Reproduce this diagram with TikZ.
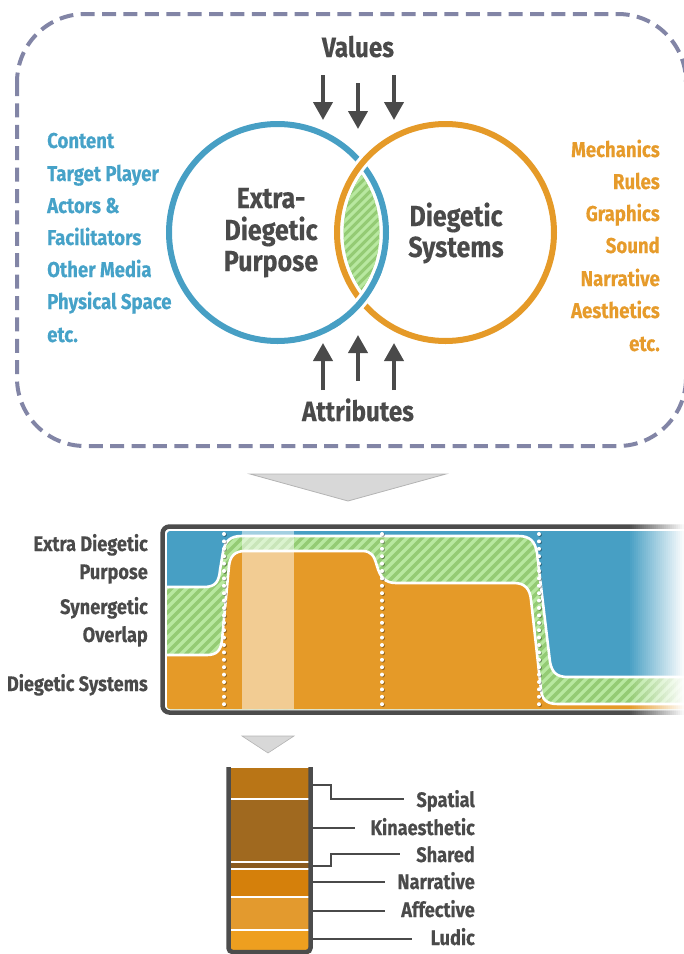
\documentclass[tikz,border=0pt]{standalone}
\usepackage{fontspec}
\setmainfont{Fira Sans}[FakeStretch=0.865, FakeBold=0.35]
\usetikzlibrary{arrows.meta}
\definecolor{dk}{HTML}{4A4A4A}
\definecolor{frm}{HTML}{4C4C4C}
\definecolor{cblue}{HTML}{479FC4}
\definecolor{tblue}{HTML}{46A2C8}
\definecolor{corange}{HTML}{E59A28}
\definecolor{torange}{HTML}{E69B2B}
\definecolor{cgreen}{HTML}{94CB74}
\definecolor{cstripe}{HTML}{B8E8A0}
\definecolor{cdash}{HTML}{8285A6}
\definecolor{tri}{HTML}{D8D8D8}
\definecolor{triD}{HTML}{B4B4B4}
\definecolor{bA}{HTML}{B97516}
\definecolor{bB}{HTML}{A0691F}
\definecolor{bC}{HTML}{8A5A1F}
\definecolor{bD}{HTML}{D5800B}
\definecolor{bE}{HTML}{E39A2E}
\definecolor{bF}{HTML}{EE9F1F}
\tikzset{
  txt/.style={font=\bfseries\fontsize{21}{25}\selectfont, text=dk, inner sep=0pt},
  lst/.style={font=\bfseries\fontsize{21.5}{25}\selectfont, inner sep=0pt},
  big/.style={font=\bfseries\fontsize{29}{32}\selectfont, text=dk, inner sep=0pt},
  head/.style={font=\bfseries\fontsize{28}{32}\selectfont, text=dk, inner sep=0pt},
  arr/.style={draw=dk, line width=4pt, -{Triangle[width=19pt,length=18pt]}},
  leader/.style={draw=dk, line width=1.6pt},
  bound/.style={draw=white, line width=2.6pt},
  dots/.style={line width=4pt, line cap=round, dash pattern=on 0pt off 7.4pt},
}
\begin{document}
\begin{tikzpicture}[x=1pt,y=-1pt]
\useasboundingbox (0,0) rectangle (684,954);

% ---------------- top panel ----------------
\draw[cdash, line width=4pt, dash pattern=on 14pt off 7.4pt, rounded corners=68pt] (17,14) rectangle (686,446);

\node[head, anchor=base] (values) at (358,57) {Values};
\node[head, anchor=base] (attr) at (358,421) {Attributes};

\coordinate (va1) at (323,75);  \coordinate (vb1) at (323,120);
\coordinate (va2) at (358,83);  \coordinate (vb2) at (358,129);
\coordinate (va3) at (394,75);  \coordinate (vb3) at (394,120);
\draw[arr] (va1) -- (vb1);
\draw[arr] (va2) -- (vb2);
\draw[arr] (va3) -- (vb3);
\coordinate (aa1) at (323,390); \coordinate (ab1) at (323,343);
\coordinate (aa2) at (358,381); \coordinate (ab2) at (358,335);
\coordinate (aa3) at (394,390); \coordinate (ab3) at (394,343);
\draw[arr] (aa1) -- (ab1);
\draw[arr] (aa2) -- (ab2);
\draw[arr] (aa3) -- (ab3);

% lens
\begin{scope}
  \clip (277.5,232.5) circle (102);
  \clip (445.5,232.5) circle (102);
  \fill[cgreen] (320,150) rectangle (400,320);
  \foreach \i in {0,...,30} \draw[cstripe, line width=3pt] (200+\i*9,330) -- ++(200,-200);
\end{scope}

% circles
\draw[cblue, line width=6pt] (277.5,232.5) circle (108.5);
\draw[white, line width=12pt] (445.5,232.5) circle (108.5);
\draw[corange, line width=6pt] (445.5,232.5) circle (108.5);
\draw[white, line width=12pt] ([shift={(25:108.5)}]277.5,232.5) arc[start angle=25, end angle=55, radius=108.5];
\draw[cblue, line width=6pt] ([shift={(20:108.5)}]277.5,232.5) arc[start angle=20, end angle=60, radius=108.5];

\node[big, anchor=base] (ep1) at (271,208) {Extra-};
\node[big, anchor=base] (ep2) at (271,240) {Diegetic};
\node[big, anchor=base] (ep3) at (271,271) {Purpose};
\node[big, anchor=base] (ds1) at (456,226) {Diegetic};
\node[big, anchor=base] (ds2) at (456,257) {Systems};

\node[lst, text=tblue, anchor=base west] (l1) at (47,148) {Content};
\node[lst, text=tblue, anchor=base west] (l2) at (47,181) {Target Player};
\node[lst, text=tblue, anchor=base west] (l3) at (47,213) {Actors \&};
\node[lst, text=tblue, anchor=base west] (l4) at (47,245) {Facilitators};
\node[lst, text=tblue, anchor=base west] (l5) at (47,277) {Other Media};
\node[lst, text=tblue, anchor=base west] (l6) at (47,309) {Physical Space};
\node[lst, text=tblue, anchor=base west] (l7) at (47,342) {etc.};

\node[lst, text=torange, anchor=base east] (r1) at (660,157) {Mechanics};
\node[lst, text=torange, anchor=base east] (r2) at (660,189) {Rules};
\node[lst, text=torange, anchor=base east] (r3) at (660,221) {Graphics};
\node[lst, text=torange, anchor=base east] (r4) at (660,253) {Sound};
\node[lst, text=torange, anchor=base east] (r5) at (660,286) {Narrative};
\node[lst, text=torange, anchor=base east] (r6) at (660,318) {Aesthetics};
\node[lst, text=torange, anchor=base east] (r7) at (660,351) {etc.};

% big triangle
\filldraw[fill=tri, draw=triD, line width=0.8pt] (250,474) -- (446,474) -- (348,501) -- cycle;

% ---------------- band ----------------
\node[txt, anchor=base east] (b1) at (148,551) {Extra Diegetic};
\node[txt, anchor=base east] (b2) at (148,579) {Purpose};
\node[txt, anchor=base east] (b3) at (148,614) {Synergetic};
\node[txt, anchor=base east] (b4) at (148,642) {Overlap};
\node[txt, anchor=base east] (b5) at (148,691) {Diegetic Systems};

\draw[frm, line width=4.5pt, rounded corners=7pt] (162.5,526.5) rectangle (712,712.5);

\begin{scope}
  \clip[rounded corners=3pt] (167,531) rectangle (705,709);
  \fill[cblue] (160,520) rectangle (705,720);
  \fill[cgreen] (160,587) -- (204,587) .. controls (216,587) and (219,581) .. (220,570) -- (223,552) .. controls (225,541) and (230,536) .. (242,536) -- (518,536) .. controls (530,536) and (535,541) .. (537,553) -- (550,662) .. controls (552,672) and (556,677) .. (568,677) -- (705,677) -- (705,720) -- (160,720) -- cycle;
  \begin{scope}
    \clip (160,587) -- (204,587) .. controls (216,587) and (219,581) .. (220,570) -- (223,552) .. controls (225,541) and (230,536) .. (242,536) -- (518,536) .. controls (530,536) and (535,541) .. (537,553) -- (550,662) .. controls (552,672) and (556,677) .. (568,677) -- (705,677) -- (705,720) -- (160,720) -- cycle;
    \foreach \i in {0,...,78} \draw[cstripe, line width=3.2pt] (-40+\i*10,725) -- ++(210,-210);
  \end{scope}
  \fill[corange] (160,655) -- (207,655) .. controls (217,655) and (221,650) .. (222,640) -- (229,566) .. controls (230,556) and (235,551) .. (245,551) -- (362,551) .. controls (372,551) and (374,556) .. (377,566) .. controls (380,577) and (385,583) .. (396,583) -- (514,583) .. controls (525,583) and (530,589) .. (531,600) -- (541,690) .. controls (542,700) and (547,704) .. (558,704) -- (705,704) -- (705,720) -- (160,720) -- cycle;
  \draw[bound] (160,587) -- (204,587) .. controls (216,587) and (219,581) .. (220,570) -- (223,552) .. controls (225,541) and (230,536) .. (242,536) -- (518,536) .. controls (530,536) and (535,541) .. (537,553) -- (550,662) .. controls (552,672) and (556,677) .. (568,677) -- (705,677);
  \draw[bound] (160,655) -- (207,655) .. controls (217,655) and (221,650) .. (222,640) -- (229,566) .. controls (230,556) and (235,551) .. (245,551) -- (362,551) .. controls (372,551) and (374,556) .. (377,566) .. controls (380,577) and (385,583) .. (396,583) -- (514,583) .. controls (525,583) and (530,589) .. (531,600) -- (541,690) .. controls (542,700) and (547,704) .. (558,704) -- (705,704);
  \fill[white, opacity=0.5] (242,531) rectangle (294,709);
  \foreach \x in {224,382,539} {
    \draw[dots, black, opacity=0.35] (\x+0.9,534.9) -- (\x+0.9,706);
    \draw[dots, white] (\x,534) -- (\x,705.5);
  }
\end{scope}
% right fade
\foreach \i in {0,...,28} \fill[white, opacity=\i/28] (628+2*\i,516) rectangle (630.4+2*\i,722);

% ---------------- bar ----------------
\filldraw[fill=tri, draw=triD, line width=0.6pt] (242,736) -- (294,736) -- (268,753) -- cycle;

\fill[bA] (231,768) rectangle (308.5,798);
\fill[bB] (231,800) rectangle (308.5,861);
\fill[bC] (231,863) rectangle (308.5,868.3);
\fill[bD] (231,870) rectangle (308.5,896);
\fill[bE] (231,898) rectangle (308.5,929);
\fill[bF] (231,931) rectangle (308.5,954);
\draw[frm, line width=4.5pt, rounded corners=4pt] (228.5,767) -- (228.5,952) -- (310.5,952) -- (310.5,767);

\coordinate (s0) at (313,785); \coordinate (s1) at (331,785); \coordinate (s2) at (331,799); \coordinate (s3) at (404,799);
\coordinate (k0) at (313,828); \coordinate (k1) at (355,828);
\coordinate (h0) at (313,866); \coordinate (h1) at (331,866); \coordinate (h2) at (331,854); \coordinate (h3) at (400,854);
\coordinate (n0) at (313,882); \coordinate (n1) at (385,882);
\coordinate (a0) at (313,911); \coordinate (a1) at (385,911);
\coordinate (u0) at (313,939); \coordinate (u1) at (412,939);
\draw[leader] (s0) -- (s1) -- (s2) -- (s3);
\draw[leader] (k0) -- (k1);
\draw[leader] (h0) -- (h1) -- (h2) -- (h3);
\draw[leader] (n0) -- (n1);
\draw[leader] (a0) -- (a1);
\draw[leader] (u0) -- (u1);

\node[txt, anchor=base east] (t1) at (475,807) {Spatial};
\node[txt, anchor=base east] (t2) at (475,835) {Kinaesthetic};
\node[txt, anchor=base east] (t3) at (475,862) {Shared};
\node[txt, anchor=base east] (t4) at (475,889) {Narrative};
\node[txt, anchor=base east] (t5) at (475,917) {Affective};
\node[txt, anchor=base east] (t6) at (475,945) {Ludic};
\end{tikzpicture}
\end{document}
